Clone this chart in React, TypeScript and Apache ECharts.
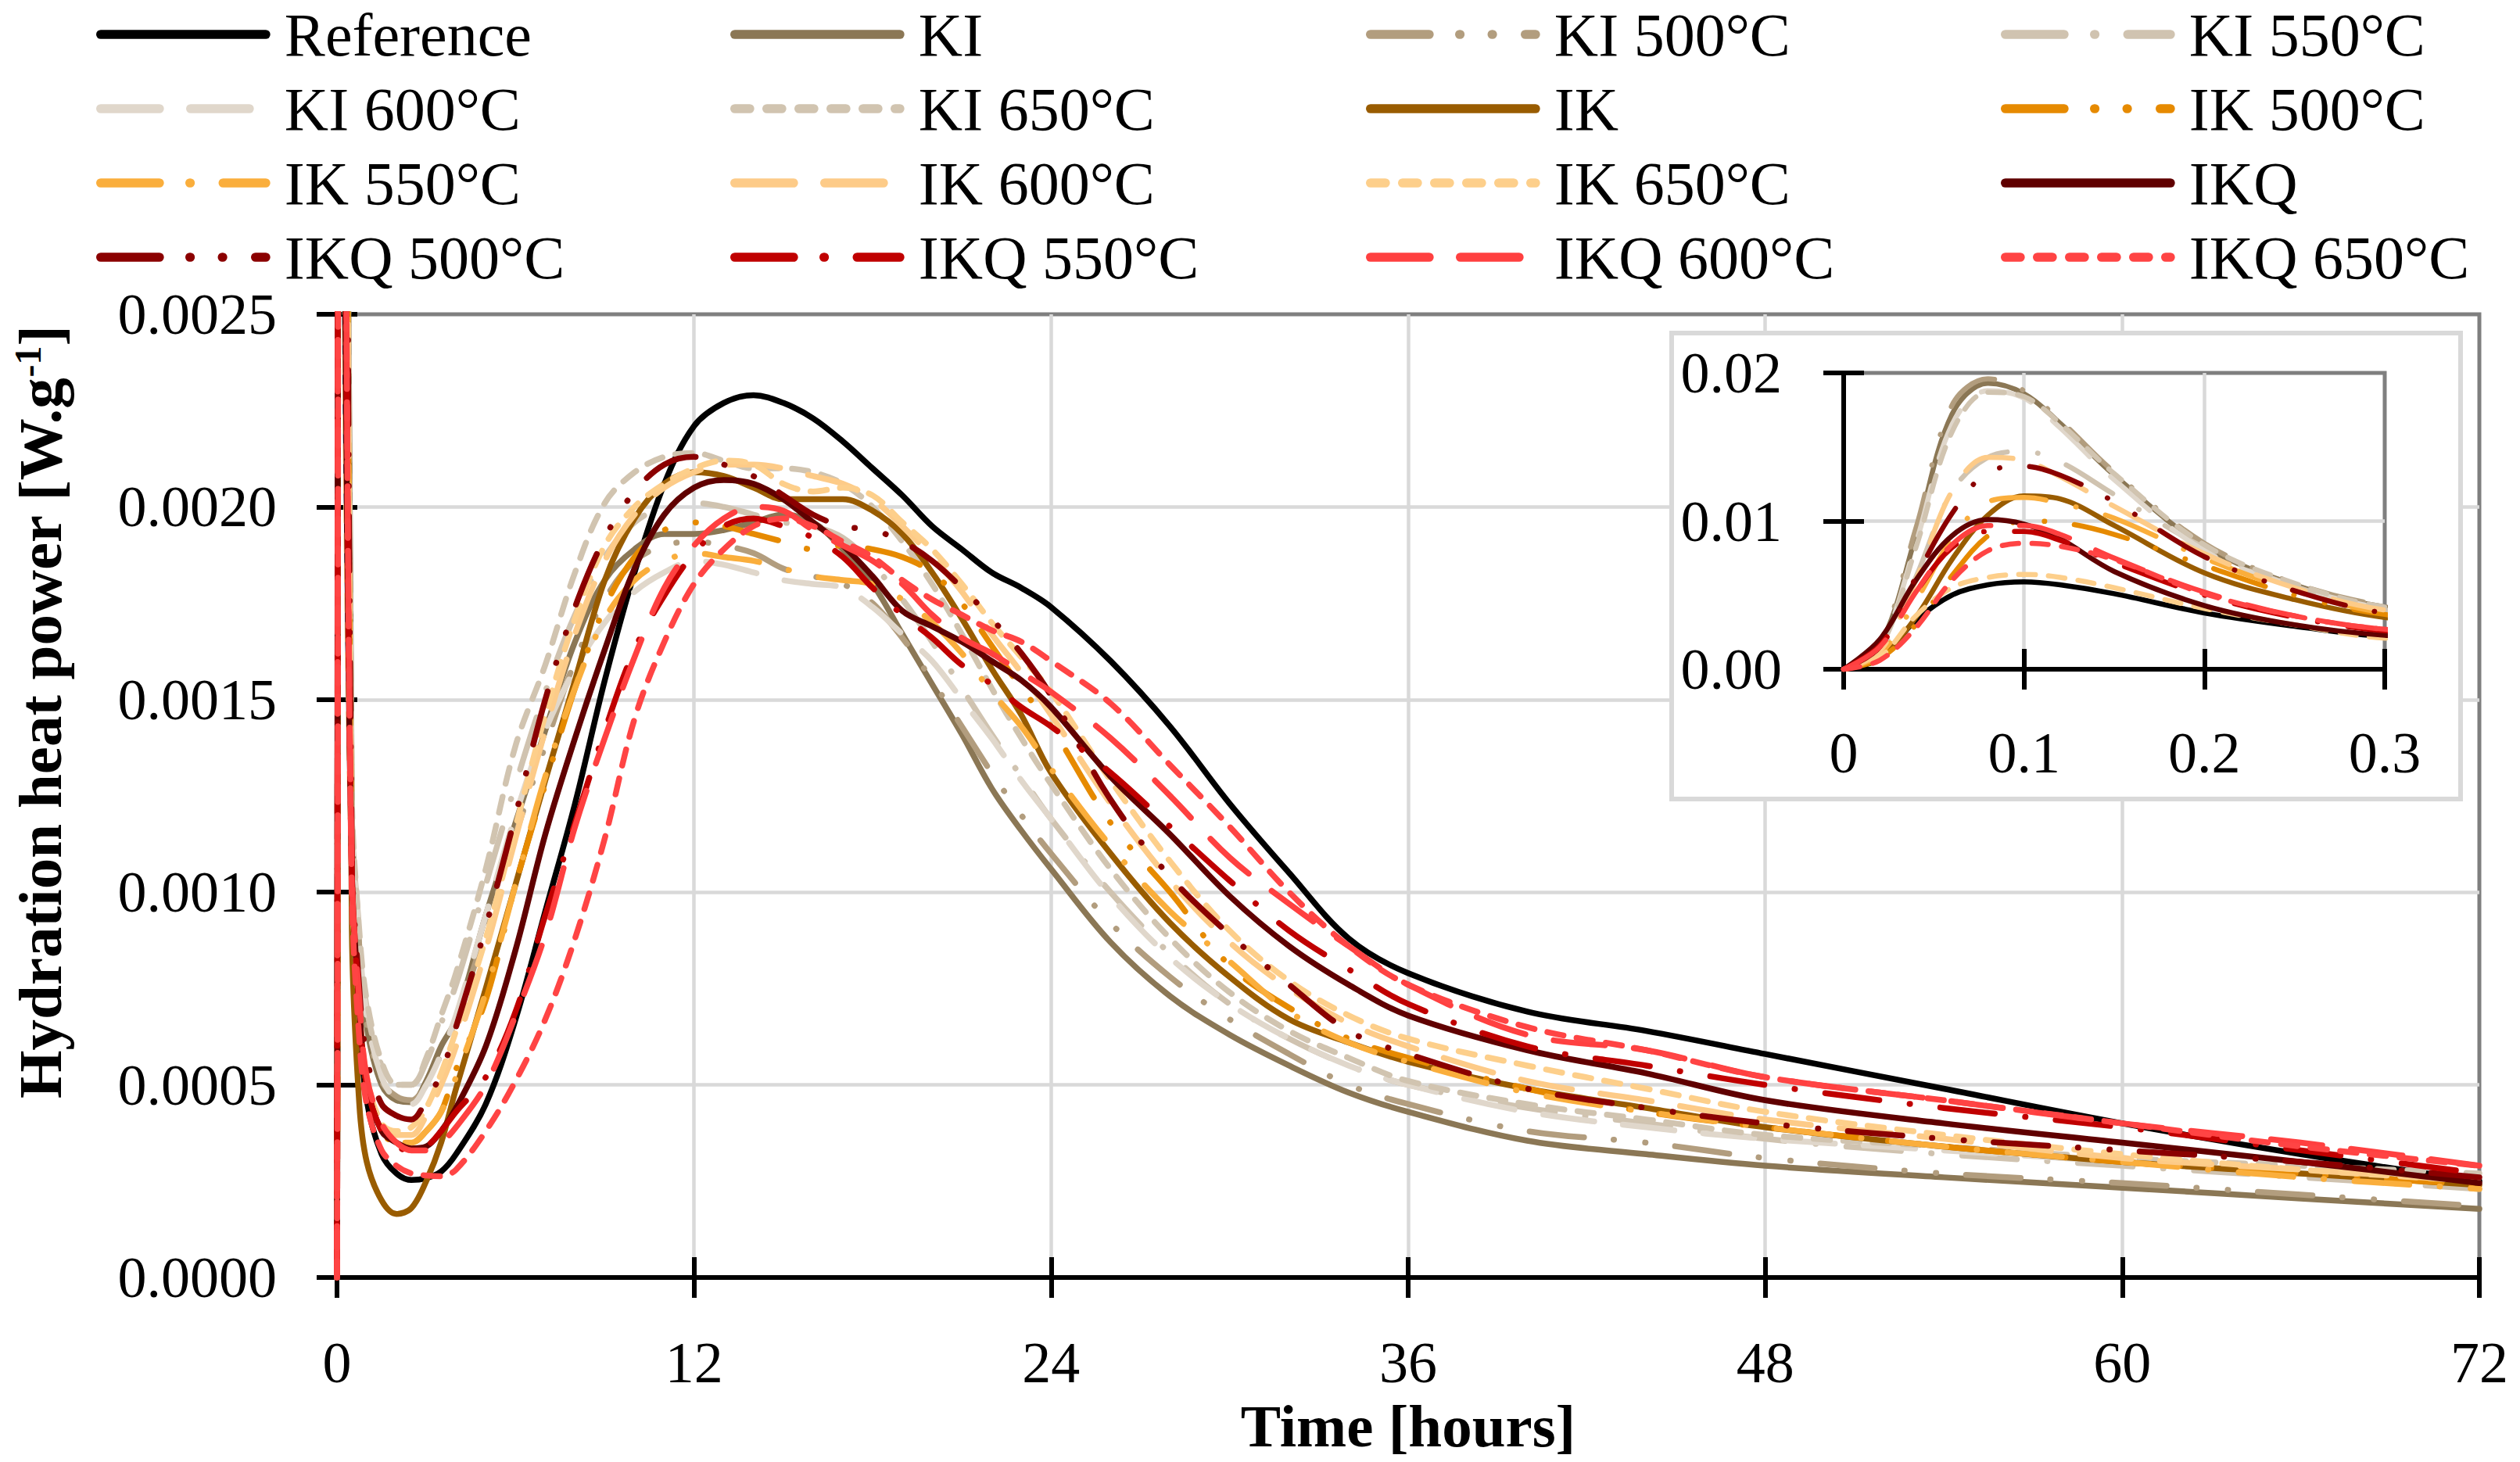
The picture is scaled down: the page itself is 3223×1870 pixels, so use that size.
import React, { useEffect, useRef } from 'react';
import * as echarts from 'echarts';

// Time in hours (dense at start for the inset, which zooms on 0-0.3 h)
const TIME_H = [
  0, 0.02, 0.04, 0.06, 0.08, 0.1, 0.12, 0.15, 0.2, 0.25, 0.3,
  0.5, 0.75, 1, 1.5, 2, 2.5, 3, 3.5, 4, 5,
  6, 7, 8, 9, 10, 11, 12, 13, 14, 15,
  16, 17, 18, 19, 20, 21, 22, 23, 24, 26,
  28, 30, 32, 34, 36, 40, 44, 48, 54, 60, 66, 72,
];

const SERIES_NAMES = [
  'Reference', 'KI', 'KI 500°C', 'KI 550°C', 'KI 600°C', 'KI 650°C',
  'IK', 'IK 500°C', 'IK 550°C', 'IK 600°C', 'IK 650°C',
  'IKQ', 'IKQ 500°C', 'IKQ 550°C', 'IKQ 600°C', 'IKQ 650°C',
];

const SERIES_COLORS = [
  '#000000', '#8B7755', '#B29D7E', '#D0C3B0', '#E0D7CB', '#D1C4B0',
  '#995C00', '#E68A00', '#FAAE3C', '#FDCB88', '#FDCF8B',
  '#600000', '#8B0000', '#C00000', '#FF4040', '#FF4444',
];

const SERIES_DASHES = [
  'solid', 'solid', 'dashDotDot', 'dashDot', 'longDash', 'shortDash',
  'solid', 'dashDotDot', 'dashDot', 'longDash', 'shortDash',
  'solid', 'dashDotDot', 'dashDot', 'longDash', 'shortDash',
];

// Hydration heat power [W/g], one value per TIME_H entry
const REFERENCE = [0, 0.0007, 0.0033, 0.005, 0.0057, 0.0059, 0.0057, 0.0051, 0.0038, 0.0029, 0.0022,
  0.0011, 0.00068, 0.00046, 0.00032, 0.00027, 0.000253, 0.000258, 0.000275, 0.00032, 0.00045,
  0.00067, 0.00095, 0.00123, 0.00155, 0.00183, 0.00206, 0.00221, 0.00227, 0.00229, 0.00227,
  0.00223, 0.00217, 0.0021, 0.00203, 0.00195, 0.00189, 0.00183, 0.00179, 0.00174, 0.0016,
  0.00143, 0.00123, 0.00105, 0.00088, 0.00079, 0.00069, 0.00064, 0.00058, 0.00049, 0.0004, 0.00032, 0.00025];
const KI = [0, 0.0016, 0.009, 0.0172, 0.0193, 0.0186, 0.0166, 0.0131, 0.0083, 0.0057, 0.0042,
  0.0012, 0.00085, 0.00065, 0.0005, 0.00046, 0.000455, 0.00051, 0.0006, 0.00067, 0.00094,
  0.00118, 0.00142, 0.00165, 0.00181, 0.00189, 0.00193, 0.00193, 0.00194, 0.00196, 0.00198,
  0.00196, 0.00189, 0.0018, 0.00167, 0.00154, 0.00141, 0.00127, 0.00116, 0.00106, 0.00087,
  0.00073, 0.00063, 0.00055, 0.00048, 0.00043, 0.000355, 0.00032, 0.00029, 0.00026, 0.000233, 0.000205, 0.000178];
const KI_500 = [0, 0.0018, 0.0095, 0.0178, 0.0196, 0.0188, 0.0168, 0.0133, 0.0085, 0.0058, 0.0043,
  0.0012, 0.00086, 0.00066, 0.00051, 0.00047, 0.00046, 0.0005, 0.00058, 0.00067, 0.0009,
  0.00115, 0.00138, 0.0016, 0.00176, 0.00186, 0.0019, 0.00191, 0.0019, 0.00188, 0.00184,
  0.00182, 0.0018, 0.00175, 0.00166, 0.00155, 0.00143, 0.00131, 0.0012, 0.0011, 0.00092,
  0.00078, 0.00067, 0.00058, 0.0005, 0.00045, 0.00038, 0.00035, 0.00031, 0.00027, 0.000245, 0.000215, 0.000185];
const KI_550 = [0, 0.0012, 0.0062, 0.012, 0.0143, 0.0147, 0.014, 0.0118, 0.0082, 0.0056, 0.004,
  0.0012, 0.0009, 0.0007, 0.00055, 0.0005, 0.0005, 0.00056, 0.00066, 0.00076, 0.00102,
  0.00128, 0.00152, 0.00172, 0.00187, 0.00196, 0.002, 0.00201, 0.002, 0.00198, 0.00196,
  0.00195, 0.00192, 0.00185, 0.00176, 0.00165, 0.00153, 0.00141, 0.0013, 0.00119, 0.001,
  0.00084, 0.00071, 0.00062, 0.00055, 0.0005, 0.00044, 0.0004, 0.00036, 0.00032, 0.00029, 0.00026, 0.00023];
const KI_600 = [0, 0.0015, 0.0085, 0.0165, 0.0188, 0.0183, 0.0163, 0.0128, 0.008, 0.0056, 0.0041,
  0.0012, 0.00088, 0.00068, 0.00052, 0.00046, 0.00045, 0.0005, 0.00058, 0.00068, 0.00094,
  0.0012, 0.00142, 0.00158, 0.0017, 0.00178, 0.00183, 0.00186, 0.00185, 0.00183, 0.00181,
  0.0018, 0.00179, 0.00174, 0.00167, 0.0016, 0.0015, 0.0014, 0.00129, 0.00119, 0.00099,
  0.00083, 0.00071, 0.00062, 0.00055, 0.0005, 0.00043, 0.00039, 0.00036, 0.00033, 0.0003, 0.00027, 0.00025];
const KI_650 = [0, 0.0014, 0.0082, 0.016, 0.0187, 0.0184, 0.0166, 0.0132, 0.0084, 0.0058, 0.0042,
  0.00125, 0.0009, 0.00072, 0.00056, 0.0005, 0.0005, 0.00057, 0.00068, 0.00079, 0.00106,
  0.00138, 0.00159, 0.00183, 0.00201, 0.00209, 0.00213, 0.00214, 0.00212, 0.0021, 0.0021,
  0.00209, 0.00206, 0.002, 0.00191, 0.0018, 0.00167, 0.00153, 0.0014, 0.00128, 0.00106,
  0.00088, 0.00074, 0.00064, 0.00057, 0.00051, 0.00045, 0.00041, 0.00037, 0.00034, 0.00031, 0.00029, 0.00027];
const IK = [0, 0.0008, 0.0035, 0.0074, 0.0104, 0.0117, 0.0115, 0.0097, 0.0065, 0.0047, 0.0035,
  0.0009, 0.00045, 0.0003, 0.0002, 0.000165, 0.00018, 0.00025, 0.00035, 0.00049, 0.00075,
  0.00102, 0.00129, 0.00155, 0.00181, 0.00197, 0.00206, 0.00209, 0.00208, 0.00205, 0.00202,
  0.00202, 0.00202, 0.00199, 0.00193, 0.00183, 0.00171, 0.00158, 0.00146, 0.00131, 0.0011,
  0.00092, 0.00078, 0.00067, 0.00061, 0.00056, 0.00049, 0.00044, 0.00039, 0.00034, 0.0003, 0.00027, 0.00024];
const IK_500 = [0, 0.0007, 0.003, 0.0063, 0.009, 0.01, 0.0099, 0.0091, 0.007, 0.005, 0.0037,
  0.00105, 0.0007, 0.0005, 0.00038, 0.00035, 0.00035, 0.00038, 0.00043, 0.00054, 0.00072,
  0.00102, 0.00128, 0.00153, 0.00174, 0.00187, 0.00194, 0.00196, 0.00195, 0.00193, 0.00191,
  0.00189, 0.0019, 0.00189, 0.00187, 0.00183, 0.00175, 0.00164, 0.00153, 0.00143, 0.00118,
  0.001, 0.00081, 0.0007, 0.00062, 0.00057, 0.00049, 0.00043, 0.00039, 0.00034, 0.0003, 0.00027, 0.00024];
const IK_550 = [0, 0.001, 0.0046, 0.0088, 0.0113, 0.0116, 0.0112, 0.0102, 0.0075, 0.0053, 0.0038,
  0.00105, 0.0007, 0.0005, 0.00038, 0.00035, 0.00035, 0.00038, 0.00043, 0.00052, 0.00074,
  0.00102, 0.0013, 0.00153, 0.00171, 0.00181, 0.00186, 0.00188, 0.00187, 0.00186, 0.00184,
  0.00182, 0.00181, 0.0018, 0.00176, 0.0017, 0.00162, 0.00152, 0.00143, 0.00132, 0.00112,
  0.00095, 0.00082, 0.00069, 0.00061, 0.00056, 0.00048, 0.00043, 0.00039, 0.00034, 0.0003, 0.00026, 0.00023];
const IK_600 = [0, 0.0012, 0.006, 0.012, 0.0143, 0.0141, 0.013, 0.011, 0.0078, 0.0055, 0.004,
  0.00105, 0.0007, 0.00052, 0.0004, 0.00037, 0.00037, 0.00042, 0.0005, 0.0006, 0.00085,
  0.00114, 0.00142, 0.00167, 0.00186, 0.00198, 0.00205, 0.00209, 0.00211, 0.00211, 0.0021,
  0.00208, 0.00206, 0.00202, 0.00195, 0.00187, 0.00178, 0.00167, 0.00157, 0.00146, 0.00123,
  0.00103, 0.00087, 0.00075, 0.00066, 0.0006, 0.00051, 0.00046, 0.00041, 0.00036, 0.00031, 0.00028, 0.00025];
const IK_650 = [0, 0.0008, 0.0036, 0.0055, 0.0062, 0.0064, 0.0062, 0.0055, 0.0041, 0.003, 0.0021,
  0.00105, 0.0007, 0.00052, 0.0004, 0.00038, 0.00039, 0.00044, 0.00053, 0.00064, 0.00088,
  0.00117, 0.00146, 0.00171, 0.0019, 0.002, 0.00206, 0.0021, 0.00212, 0.00211, 0.00206,
  0.00204, 0.00205, 0.00203, 0.00196, 0.00189, 0.0018, 0.0017, 0.00161, 0.00152, 0.00129,
  0.00108, 0.0009, 0.00077, 0.00068, 0.00062, 0.00055, 0.00049, 0.00043, 0.00037, 0.00032, 0.00028, 0.00025];
const IKQ = [0, 0.002, 0.006, 0.009, 0.0101, 0.0098, 0.0088, 0.0066, 0.0043, 0.003, 0.0023,
  0.00105, 0.0007, 0.0005, 0.00038, 0.00035, 0.000335, 0.00034, 0.00038, 0.00044, 0.0006,
  0.00085, 0.00115, 0.0014, 0.00163, 0.00184, 0.00198, 0.00205, 0.00207, 0.00206, 0.00202,
  0.00196, 0.0019, 0.00182, 0.00173, 0.00169, 0.00165, 0.0016, 0.00155, 0.00148, 0.0013,
  0.00115, 0.00099, 0.00086, 0.00076, 0.00068, 0.00059, 0.00053, 0.00046, 0.0004, 0.00035, 0.0003, 0.000245];
const IKQ_500 = [0, 0.0015, 0.0062, 0.0105, 0.0133, 0.0137, 0.0131, 0.0113, 0.0076, 0.0053, 0.0038,
  0.0011, 0.00075, 0.00057, 0.00045, 0.00042, 0.00041, 0.00046, 0.00053, 0.00065, 0.00091,
  0.0012, 0.0015, 0.00174, 0.00192, 0.00204, 0.00211, 0.00213, 0.00211, 0.00208, 0.00203,
  0.00198, 0.00195, 0.00194, 0.00191, 0.00186, 0.00179, 0.00171, 0.00162, 0.00151, 0.00124,
  0.00104, 0.00089, 0.00076, 0.00064, 0.00058, 0.00049, 0.00044, 0.0004, 0.00036, 0.00033, 0.0003, 0.00026];
const IKQ_550 = [0, 0.0016, 0.0052, 0.0082, 0.0093, 0.0093, 0.0087, 0.0072, 0.005, 0.0035, 0.0026,
  0.00105, 0.0007, 0.0005, 0.00038, 0.00034, 0.00033, 0.00034, 0.00038, 0.00043, 0.00052,
  0.00069, 0.00094, 0.00118, 0.00142, 0.00163, 0.00177, 0.00188, 0.00195, 0.00197, 0.00195,
  0.00192, 0.00187, 0.00179, 0.00172, 0.00166, 0.00159, 0.00154, 0.00148, 0.00143, 0.00131,
  0.00117, 0.00103, 0.0009, 0.0008, 0.00071, 0.0006, 0.00055, 0.0005, 0.00044, 0.00039, 0.00033, 0.00027];
const IKQ_600 = [0, 0.0015, 0.0052, 0.0084, 0.0097, 0.0097, 0.0091, 0.0075, 0.0052, 0.0036, 0.0027,
  0.00105, 0.00072, 0.00052, 0.0004, 0.00035, 0.00033, 0.00033, 0.00035, 0.00039, 0.0005,
  0.00068, 0.00089, 0.00117, 0.0014, 0.00161, 0.00179, 0.0019, 0.00197, 0.002, 0.00199,
  0.00194, 0.0019, 0.00186, 0.0018, 0.00172, 0.00166, 0.00162, 0.00157, 0.00152, 0.0014,
  0.00125, 0.00109, 0.00097, 0.00086, 0.00076, 0.00063, 0.00059, 0.00052, 0.00046, 0.0004, 0.00035, 0.00029];
const IKQ_650 = [0, 0.0006, 0.0028, 0.006, 0.008, 0.0085, 0.0083, 0.0074, 0.0051, 0.0036, 0.0027,
  0.001, 0.00062, 0.00045, 0.00033, 0.00029, 0.00027, 0.000265, 0.000263, 0.00028, 0.00038,
  0.00051, 0.00067, 0.00088, 0.00114, 0.00145, 0.00165, 0.0018, 0.00189, 0.00195, 0.00197,
  0.00195, 0.00191, 0.00187, 0.00181, 0.00176, 0.00172, 0.00168, 0.00165, 0.0016, 0.00149,
  0.00133, 0.00117, 0.001, 0.00086, 0.00076, 0.00065, 0.00059, 0.00052, 0.00046, 0.0004, 0.00034, 0.00029];

const SERIES_VALUES = [
  REFERENCE, KI, KI_500, KI_550, KI_600, KI_650,
  IK, IK_500, IK_550, IK_600, IK_650,
  IKQ, IKQ_500, IKQ_550, IKQ_600, IKQ_650,
];

const FONT = "'Liberation Serif', 'Times New Roman', serif";

const MAIN_DASH: Record<string, any> = {
  solid: 'solid',
  dashDotDot: [70, 38, 0.5, 40, 0.5, 38],
  dashDot: [70, 39, 0.5, 39],
  longDash: [66, 37],
  shortDash: [21, 17],
};
const LEGEND_DASH: Record<string, any> = {
  solid: 'solid',
  dashDotDot: [75, 39, 0.5, 41, 0.5, 42],
  dashDot: [75, 39, 0.5, 42],
  longDash: [75, 40],
  shortDash: [19, 22],
};

const LEGEND_COLUMN_X = [123, 934, 1747, 2559];

function buildOption() {
  const makeSeries = (idx: number, inset: boolean) => {
    const vals = SERIES_VALUES[idx];
    const n = Math.min(vals.length, TIME_H.length);
    const data: number[][] = [];
    for (let i = 0; i < n; i++) data.push([TIME_H[i], vals[i]]);
    return {
      type: 'line',
      name: SERIES_NAMES[idx],
      xAxisIndex: inset ? 2 : 0,
      yAxisIndex: inset ? 2 : 0,
      data,
      symbol: 'none',
      showSymbol: false,
      smooth: 0.35,
      clip: true,
      silent: true,
      z: inset ? 13 : 2,
      lineStyle: {
        color: SERIES_COLORS[idx],
        width: inset ? 6.5 : 7.5,
        type: MAIN_DASH[SERIES_DASHES[idx]],
        cap: 'round',
        join: 'round',
      },
      itemStyle: { color: SERIES_COLORS[idx] },
      emphasis: { disabled: true },
    };
  };

  const series: any[] = [];
  for (let i = 0; i < SERIES_NAMES.length; i++) series.push(makeSeries(i, false));
  for (let i = 0; i < SERIES_NAMES.length; i++) series.push(makeSeries(i, true));

  const legends = LEGEND_COLUMN_X.map((x, c) => ({
    orient: 'vertical',
    left: x,
    top: 5,
    padding: 0,
    itemGap: 17,
    itemWidth: 211,
    itemHeight: 20,
    selectedMode: false,
    itemStyle: { opacity: 0 },
    lineStyle: { cap: 'round' },
    textStyle: { fontSize: 78, lineHeight: 76, color: '#000', fontFamily: FONT, padding: [0, 0, 0, 19] },
    data: [c, c + 4, c + 8, c + 12].map((i) => ({
      name: SERIES_NAMES[i],
      lineStyle: { width: 11.7, type: LEGEND_DASH[SERIES_DASHES[i]], cap: 'round', color: SERIES_COLORS[i] },
    })),
  }));

  const labelStyle = { fontSize: 74, lineHeight: 76, color: '#000', fontFamily: FONT };
  const tickStyle = { color: '#000', width: 6 };
  const splitStyle = { color: '#d9d9d9', width: 4.5 };

  const innerTickAxis = (grid: number, min: number, max: number, interval: number, position: string, z: number) => ({
    type: 'value', gridIndex: grid, position, min, max, interval, z,
    axisLine: { show: false },
    axisLabel: { show: false },
    splitLine: { show: false },
    axisTick: { show: true, inside: true, length: 26, lineStyle: tickStyle },
  });

  return {
    animation: false,
    backgroundColor: '#ffffff',
    textStyle: { fontFamily: FONT },
    legend: legends,
    grid: [
      { left: 431, top: 402, width: 2740, height: 1232, show: true, borderColor: '#7f7f7f', borderWidth: 5, backgroundColor: 'transparent', containLabel: false, outerBoundsMode: 'none' },
      { left: 2358, top: 477, width: 692, height: 379, show: true, borderColor: '#7f7f7f', borderWidth: 5, backgroundColor: 'transparent', containLabel: false, outerBoundsMode: 'none', z: 11 },
    ],
    xAxis: [
      {
        type: 'value', gridIndex: 0, position: 'bottom', min: 0, max: 72, interval: 12,
        axisLine: { show: true, onZero: false, lineStyle: { color: '#000', width: 6 } },
        axisTick: { show: true, inside: false, length: 26, lineStyle: tickStyle },
        axisLabel: { ...labelStyle, margin: 71 },
        splitLine: { show: true, showMinLine: false, showMaxLine: false, lineStyle: splitStyle },
        name: 'Time [hours]', nameLocation: 'middle', nameGap: 154,
        nameTextStyle: { fontSize: 77, lineHeight: 64, fontWeight: 'bold', color: '#000', fontFamily: FONT },
      },
      innerTickAxis(0, 0, 72, 12, 'bottom', 0),
      {
        type: 'value', gridIndex: 1, position: 'bottom', min: 0, max: 0.3, interval: 0.1, z: 12,
        axisLine: { show: true, onZero: false, lineStyle: { color: '#000', width: 6 } },
        axisTick: { show: true, inside: false, length: 26, lineStyle: tickStyle },
        axisLabel: { ...labelStyle, margin: 69, formatter: (v: number) => (v === 0 ? '0' : v.toFixed(1)) },
        splitLine: { show: true, showMinLine: false, showMaxLine: false, lineStyle: splitStyle },
      },
      innerTickAxis(1, 0, 0.3, 0.1, 'bottom', 12),
    ],
    yAxis: [
      {
        type: 'value', gridIndex: 0, position: 'left', min: 0, max: 0.0025, interval: 0.0005,
        axisLine: { show: true, onZero: false, lineStyle: { color: '#000', width: 6 } },
        axisTick: { show: true, inside: false, length: 26, lineStyle: tickStyle },
        axisLabel: { ...labelStyle, margin: 77, formatter: (v: number) => v.toFixed(4) },
        splitLine: { show: true, showMinLine: false, showMaxLine: false, lineStyle: splitStyle },
      },
      innerTickAxis(0, 0, 0.0025, 0.0005, 'left', 0),
      {
        type: 'value', gridIndex: 1, position: 'left', min: 0, max: 0.02, interval: 0.01, z: 12,
        axisLine: { show: true, onZero: false, lineStyle: { color: '#000', width: 6 } },
        axisTick: { show: true, inside: false, length: 26, lineStyle: tickStyle },
        axisLabel: { ...labelStyle, margin: 79, formatter: (v: number) => v.toFixed(2) },
        splitLine: { show: true, showMinLine: false, showMaxLine: false, lineStyle: splitStyle },
      },
      innerTickAxis(1, 0, 0.02, 0.01, 'left', 12),
    ],
    graphic: {
      elements: [
        {
          type: 'rect',
          z: 10,
          silent: true,
          shape: { x: 2138, y: 426, width: 1009, height: 596 },
          style: { fill: '#ffffff', stroke: '#d9d9d9', lineWidth: 6 },
        },
        {
          type: 'text',
          z: 10,
          silent: true,
          x: 51,
          y: 911,
          rotation: Math.PI / 2,
          style: {
            text: '{a|Hydration heat power [W.g}{b|-1}{a|]}',
            align: 'center',
            verticalAlign: 'middle',
            fill: '#000',
            rich: {
              a: { fontSize: 79, lineHeight: 79, fontWeight: 'bold', fontFamily: FONT, fill: '#000' },
              b: { fontSize: 48, lineHeight: 48, fontWeight: 'bold', fontFamily: FONT, fill: '#000', verticalAlign: 'top' },
            },
          },
        },
      ],
    },
    series,
  };
}

export default function App() {
  const ref = useRef<HTMLDivElement>(null);
  useEffect(() => {
    document.body.style.margin = '0';
    if (!ref.current) return;
    const chart = echarts.init(ref.current, undefined, { renderer: 'svg' });
    chart.setOption(buildOption() as any);
    return () => {
      chart.dispose();
    };
  }, []);
  return <div ref={ref} style={{ width: 3223, height: 1870 }} />;
}
